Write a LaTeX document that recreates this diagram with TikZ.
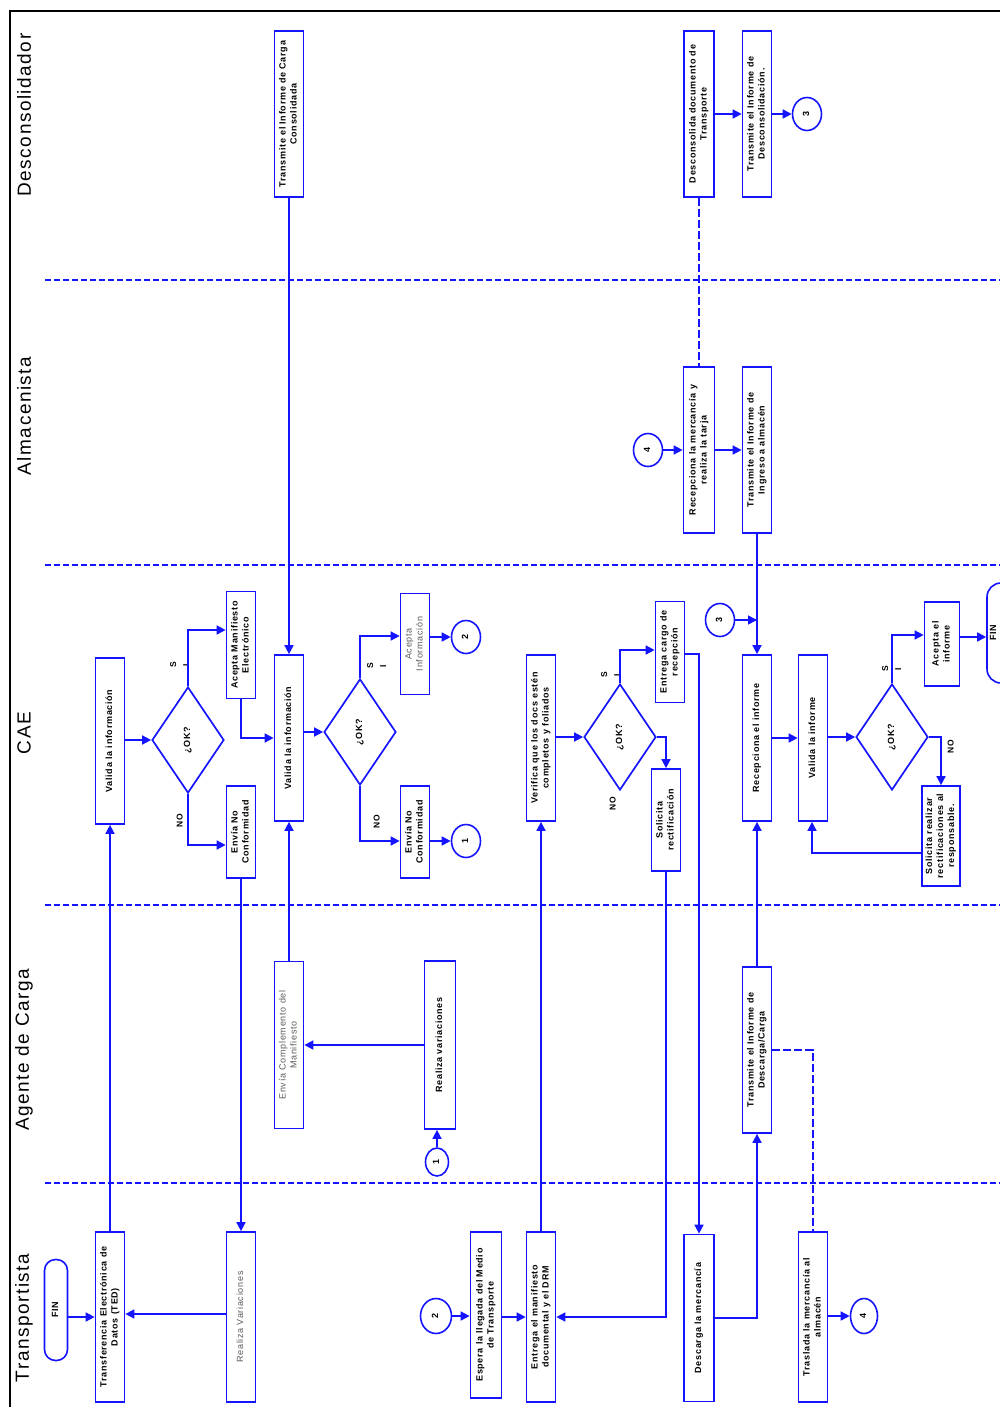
\documentclass[tikz,border=0pt]{standalone}
\usepackage{fontspec}
\setmainfont{Liberation Sans}
\newfontfamily\spacedsans[LetterSpace=8]{Liberation Sans}
\usepackage{graphicx}
\usetikzlibrary{positioning, arrows.meta, shapes.geometric, calc}
\definecolor{flowblue}{HTML}{1414FF}
\definecolor{softgray}{HTML}{5A5A5A}

\newcommand{\boxfont}{\spacedsans\fontsize{9}{11}\selectfont\bfseries}
\newcommand{\lightfont}{\spacedsans\fontsize{9}{11}\selectfont\color{softgray}}
\newcommand{\vtext}[1]{\rotatebox{90}{\begin{tabular}{@{}c@{}}#1\end{tabular}}}

\tikzset{
  procbox/.style={draw=flowblue, line width=1.7pt, fill=white, inner sep=0pt,
                  minimum width=29pt, minimum height=166pt, font=\boxfont},
  decision/.style={draw=flowblue, line width=1.7pt, diamond, inner sep=0pt,
                   minimum width=72pt, minimum height=106pt, font=\boxfont},
  connector/.style={draw=flowblue, line width=1.6pt, ellipse, inner sep=0pt,
                    minimum width=29pt, minimum height=33pt, font=\boxfont},
  terminal/.style={draw=flowblue, line width=1.6pt, rectangle, rounded corners=11pt,
                   inner sep=0pt, font=\boxfont},
  flow/.style={draw=flowblue, line width=1.6pt, ->},
  linkdash/.style={draw=flowblue, line width=1.4pt, dash pattern=on 8pt off 3pt},
  laneline/.style={draw=flowblue, line width=1.4pt, dash pattern=on 6pt off 3pt},
  lanetitle/.style={inner sep=0pt, font=\spacedsans\fontsize{19}{22}\selectfont},
  branchlabel/.style={inner sep=0pt, font=\spacedsans\fontsize{8.5}{13}\selectfont\bfseries},
}

\begin{document}
\begin{tikzpicture}[x=1pt, y=-1pt, >={Triangle[length=9pt, width=9pt]}]
  \useasboundingbox (0,0) rectangle (1000,1407);
  \clip (0,0) rectangle (1000,1407);

  % frame and lanes
  \draw[line width=2pt] (10,1420) -- (10,11) -- (1010,11);
  \foreach \ly in {280,565,905,1183}
    \draw[laneline] (45,\ly) -- (1000,\ly);
  \foreach \ty/\tname in {115/Desconsolidador, 416/Almacenista, 733/CAE,
                          1050/Agente de Carga, 1318/Transportista}
    \node[lanetitle] (title\ty) at (24,\ty) {\rotatebox{90}{\tname}};

  % Desconsolidador
  \node[procbox] (carga) at (289,114) {\vtext{Transmite el Informe de Carga\\Consolidada}};
  \node[procbox, minimum width=30pt] (descons) at (699,114) {\vtext{Desconsolida documento de\\Transporte}};
  \node[procbox] (infdescons) at (757,114) {\vtext{Transmite el Informe de\\Desconsolidación.}};
  \node[connector] (con3a) at (807,114) {\vtext{3}};

  % Almacenista
  \node[connector] (con4a) at (648,450) {\vtext{4}};
  \node[procbox, minimum width=31pt] (recmerc) at (699,450) {\vtext{Recepciona la mercancía y\\realiza la tarja}};
  \node[procbox] (ingreso) at (757,450) {\vtext{Transmite el Informe de\\Ingreso a almacén}};

  % CAE
  \node[procbox] (valida1) at (110,741) {\vtext{Valida la información}};
  \node[decision] (ok1) at (188,740) {\vtext{¿OK?}};
  \node[procbox, minimum height=107pt] (aceptaman) at (241,645) {\vtext{Acepta Manifiesto\\Electrónico}};
  \node[procbox, minimum height=92pt] (noconf1) at (241,832) {\vtext{Envía No\\Conformidad}};
  \node[procbox] (valida2) at (289,738) {\vtext{Valida la información}};
  \node[decision] (ok2) at (360,732) {\vtext{¿OK?}};
  \node[procbox, minimum height=101pt, font=\lightfont] (aceptainfo) at (415,644) {\vtext{Acepta\\Información}};
  \node[procbox, minimum height=92pt] (noconf2) at (415,832) {\vtext{Envía No\\Conformidad}};
  \node[connector] (con2a) at (466,637) {\vtext{2}};
  \node[connector] (con1a) at (466,841) {\vtext{1}};
  \node[procbox] (verifica) at (541,738) {\vtext{Verifica que los docs estén\\completos y foliados}};
  \node[decision] (ok3) at (620,737) {\vtext{¿OK?}};
  \node[procbox, minimum height=101pt] (cargo) at (670,652) {\vtext{Entrega cargo de\\recepción}};
  \node[procbox, minimum height=102pt] (solrect) at (666,820) {\vtext{Solicita\\rectificación}};
  \node[connector] (con3b) at (720,620) {\vtext{3}};
  \node[procbox] (recinf) at (757,738) {\vtext{Recepciona el informe}};
  \node[procbox] (validainf) at (813,738) {\vtext{Valida la informe}};
  \node[decision] (ok4) at (892,737) {\vtext{¿OK?}};
  \node[procbox, minimum width=35pt, minimum height=84pt] (aceptainf) at (942,644) {\vtext{Acepta el\\informe}};
  \node[procbox, minimum width=38pt, minimum height=100pt] (solreal) at (941,836) {\vtext{Solicita realizar\\rectificaciones al\\responsable.}};
  \node[terminal, minimum width=30pt, minimum height=100pt, rounded corners=14pt] (finB) at (1002,633) {\vtext{FIN}\kern16pt};

  % Agente de Carga
  \node[procbox, minimum height=167pt, font=\lightfont] (complemento) at (289,1045) {\vtext{Envía Complemento del\\Manifiesto}};
  \node[procbox, minimum width=31pt, minimum height=168pt] (variac) at (440,1045) {\vtext{Realiza variaciones}};
  \node[connector, minimum width=23pt, minimum height=28pt] (con1b) at (437,1162) {\vtext{1}};
  \node[procbox] (descargacarga) at (757,1050) {\vtext{Transmite el Informe de\\Descarga/Carga}};

  % Transportista
  \node[terminal, minimum width=23pt, minimum height=101pt] (finA) at (56,1310) {\vtext{FIN}};
  \node[procbox, minimum height=170pt] (ted) at (110,1317) {\vtext{Transferencia Electrónica de\\Datos (TED)}};
  \node[procbox, minimum height=170pt, font=\lightfont] (variacT) at (241,1317) {\vtext{Realiza Variaciones}};
  \node[connector, minimum width=31pt, minimum height=35pt] (con2b) at (436,1316) {\vtext{2}};
  \node[procbox, minimum width=31pt] (espera) at (486,1315) {\vtext{Espera la llegada del Medio\\de Transporte}};
  \node[procbox, minimum height=170pt] (entrega) at (541,1317) {\vtext{Entrega el manifiesto\\documental  y el DRM}};
  \node[procbox, minimum width=30pt, minimum height=167pt] (descarga) at (699,1318) {\vtext{Descarga la mercancía}};
  \node[procbox, minimum height=170pt] (traslada) at (813,1317) {\vtext{Traslada la mercancía al\\almacén}};
  \node[connector, minimum width=27pt, minimum height=35pt] (con4b) at (864,1316) {\vtext{4}};

  % branch labels
  \node[branchlabel] (si1) at (180,665) {\vtext{S\\I}};
  \node[branchlabel] (no1) at (180,821) {\vtext{NO}};
  \node[branchlabel] (si2) at (377,666) {\vtext{S\\I}};
  \node[branchlabel] (no2) at (377,822) {\vtext{NO}};
  \node[branchlabel] (si3) at (611,675) {\vtext{S\\I}};
  \node[branchlabel] (no3) at (613,804) {\vtext{NO}};
  \node[branchlabel] (si4) at (892,669) {\vtext{S\\I}};
  \node[branchlabel] (no4) at (951,747) {\vtext{NO}};

  % connectors
  \draw[flow] (descons.east) -- (descons.east -| infdescons.west);
  \draw[flow] (infdescons.east |- con3a.west) -- (con3a.west);
  \draw[linkdash] (descons.south) -- (descons.south |- recmerc.north);
  \draw[flow] (con4a.east) -- (con4a.east -| recmerc.west);
  \draw[flow] (recmerc.east) -- (recmerc.east -| ingreso.west);
  \draw[flow] (ingreso.south) -- (ingreso.south |- recinf.north);
  \draw[flow] (con3b.east) -- (con3b.east -| recinf.north);

  \draw[flow] (ted.north) -- (valida1.south);
  \draw[flow] (valida1.east |- ok1.west) -- (ok1.west);
  \draw[flow] (ok1.north) |- ([yshift=15pt]aceptaman.west);
  \draw[flow] (ok1.south) |- ([yshift=-13pt]noconf1.west);
  \draw[flow] (aceptaman.south) |- (valida2.west);
  \draw[flow] (noconf1.south) -- (noconf1.south |- variacT.north);
  \draw[flow] (carga.south) -- (carga.south |- valida2.north);
  \draw[flow] (complemento.north) -- (complemento.north |- valida2.south);
  \draw[flow] (ok2.west -| valida2.east) -- (ok2.west);
  \draw[flow] (ok2.north) |- ([yshift=8pt]aceptainfo.west);
  \draw[flow] (ok2.south) |- ([yshift=-9pt]noconf2.west);
  \draw[flow] (aceptainfo.east |- con2a.west) -- (con2a.west);
  \draw[flow] (noconf2.east |- con1a.west) -- (con1a.west);

  \draw[flow] (entrega.north) -- (entrega.north |- verifica.south);
  \draw[flow] (verifica.east |- ok3.west) -- (ok3.west);
  \draw[flow] (ok3.north) |- ([yshift=2pt]cargo.west);
  \draw[flow] (ok3.east) -| (solrect.north);
  \draw[flow] ([yshift=-2pt]cargo.east) -| (descarga.north);
  \draw[flow] (solrect.south) |- (entrega.east);

  \draw[flow] (descargacarga.north) -- (descargacarga.north |- recinf.south);
  \draw[flow] (recinf.east) -- (recinf.east -| validainf.west);
  \draw[flow] (validainf.east |- ok4.west) -- (ok4.west);
  \draw[flow] (ok4.north) |- ([yshift=9pt]aceptainf.west);
  \draw[flow] (ok4.east) -| (solreal.north);
  \draw[flow] ([yshift=-17pt]solreal.west) -| ([xshift=-1pt]validainf.south);
  \draw[flow] ([yshift=7pt]aceptainf.east) -- ([yshift=7pt]aceptainf.east -| finB.west);

  \draw[flow] (variac.west) -- (variac.west -| complemento.east);
  \draw[flow] (con1b.north) -- (con1b.north |- variac.south);
  \draw[linkdash] (descargacarga.east) -| (traslada.north);

  \draw[flow] (ted.west -| finA.east) -- (ted.west);
  \draw[flow] ([yshift=3pt]variacT.west) -- ([yshift=3pt]variacT.west -| ted.east);
  \draw[flow] (con2b.east) -- (con2b.east -| espera.west);
  \draw[flow] (entrega.west -| espera.east) -- (entrega.west);
  \draw[flow] (descarga.east) -| (descargacarga.south);
  \draw[flow] (traslada.east |- con4b.west) -- (con4b.west);
\end{tikzpicture}
\end{document}
